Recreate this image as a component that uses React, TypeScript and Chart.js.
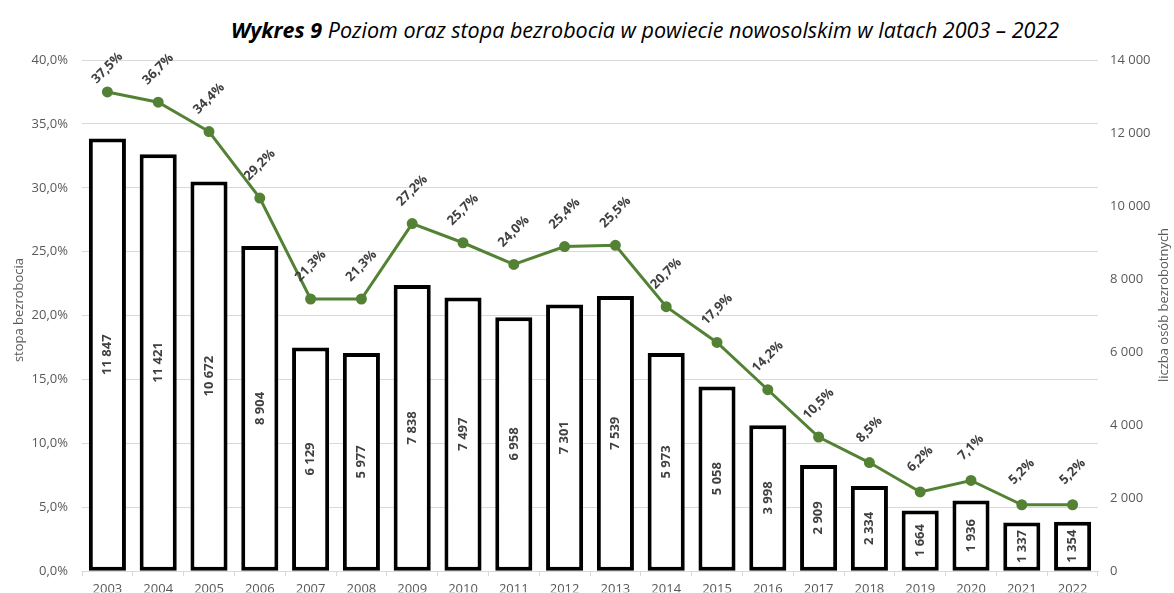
import React, { useEffect, useRef } from 'react';
import { Chart, registerables } from 'chart.js';

Chart.register(...registerables);

const years = ['2003','2004','2005','2006','2007','2008','2009','2010','2011','2012','2013','2014','2015','2016','2017','2018','2019','2020','2021','2022'];
const rates = [37.5, 36.7, 34.4, 29.2, 21.3, 21.3, 27.2, 25.7, 24.0, 25.4, 25.5, 20.7, 17.9, 14.2, 10.5, 8.5, 6.2, 7.1, 5.2, 5.2];
const counts = [11847, 11421, 10672, 8904, 6129, 5977, 7838, 7497, 6958, 7301, 7539, 5973, 5058, 3998, 2909, 2334, 1664, 1936, 1337, 1354];

const titleBold = 'Wykres 9';
const titleRest = ' Poziom oraz stopa bezrobocia w powiecie nowosolskim w latach 2003 – 2022';
const leftTitle = 'stopa bezrobocia';
const rightTitle = 'liczba osób bezrobotnych';

const GREEN = '#548235';
const LABEL = '#404040';
const AXIS = '#595959';
const GRID = '#d9d9d9';
const FONT = '"Open Sans", "DejaVu Sans", sans-serif';

const fmtPct = (v: number) => v.toFixed(1).replace('.', ',') + '%';
const fmtNum = (v: number) => String(Math.round(v)).replace(/\B(?=(\d{3})+(?!\d))/g, ' ');

const labelsPlugin = {
  id: 'customLabels',
  afterDatasetsDraw(chart: any) {
    const ctx = chart.ctx;
    ctx.save();
    ctx.font = `bold 13px ${FONT}`;
    ctx.fillStyle = LABEL;
    ctx.textAlign = 'center';
    ctx.textBaseline = 'middle';
    // bar labels
    const barMeta = chart.getDatasetMeta(1);
    barMeta.data.forEach((el: any, i: number) => {
      const cy = (el.y + el.base) / 2;
      ctx.save();
      ctx.translate(el.x, cy);
      ctx.rotate(-Math.PI / 2);
      ctx.fillText(fmtNum(counts[i]), 0, 0);
      ctx.restore();
    });
    // line labels
    const lineMeta = chart.getDatasetMeta(0);
    const minY = chart.chartArea.top + 8;
    lineMeta.data.forEach((el: any, i: number) => {
      ctx.save();
      ctx.translate(el.x, Math.max(el.y - 33, minY));
      ctx.rotate(-Math.PI / 4);
      ctx.fillText(fmtPct(rates[i]), 0, 0);
      ctx.restore();
    });
    // axis titles
    ctx.font = `13px ${FONT}`;
    ctx.fillStyle = AXIS;
    ctx.save();
    ctx.translate(19, 310);
    ctx.rotate(-Math.PI / 2);
    ctx.fillText(leftTitle, 0, 0);
    ctx.restore();
    ctx.save();
    ctx.translate(1164, 305);
    ctx.rotate(-Math.PI / 2);
    ctx.fillText(rightTitle, 0, 0);
    ctx.restore();
    ctx.restore();
  },
};

export default function App() {
  const ref = useRef<HTMLCanvasElement>(null);
  useEffect(() => {
    if (!ref.current) return;
    const chart = new Chart(ref.current, {
      type: 'bar',
      data: {
        labels: years,
        datasets: [
          {
            type: 'line',
            data: rates,
            yAxisID: 'yL',
            borderColor: GREEN,
            backgroundColor: GREEN,
            borderWidth: 3,
            pointRadius: 4,
            pointBackgroundColor: GREEN,
            pointBorderColor: GREEN,
            tension: 0,
            order: 0,
          } as any,
          {
            type: 'bar',
            data: counts,
            yAxisID: 'yR',
            backgroundColor: '#ffffff',
            borderColor: '#000000',
            borderWidth: 4,
            borderSkipped: false,
            categoryPercentage: 1,
            barPercentage: 0.73,
            order: 1,
          } as any,
        ],
      },
      options: {
        responsive: false,
        animation: false,
        layout: { padding: { top: 60, left: 0, right: 0, bottom: 0 } },
        plugins: { legend: { display: false }, tooltip: { enabled: false }, title: { display: false } },
        scales: {
          x: {
            offset: true,
            afterFit: (s: any) => { s.height = 21; },
            grid: { offset: true, drawOnChartArea: false, drawTicks: true, tickLength: 5, color: GRID },
            border: { display: true, color: GRID },
            ticks: { color: AXIS, font: { family: FONT, size: 13 }, padding: 5, maxRotation: 0 },
          },
          yL: {
            position: 'left',
            min: 0,
            max: 40,
            afterFit: (s: any) => { s.width = 82; },
            ticks: { stepSize: 5, color: AXIS, font: { family: FONT, size: 13 }, padding: 14, callback: (v: any) => fmtPct(Number(v)) },
            grid: { color: GRID, drawTicks: false },
            border: { display: false },
          },
          yR: {
            position: 'right',
            min: 0,
            max: 14000,
            afterFit: (s: any) => { s.width = 76; },
            ticks: { stepSize: 2000, color: AXIS, font: { family: FONT, size: 13 }, padding: 12, callback: (v: any) => fmtNum(Number(v)) },
            grid: { drawOnChartArea: false, drawTicks: false },
            border: { display: false },
          },
        },
      } as any,
      plugins: [labelsPlugin],
    });
    return () => chart.destroy();
  }, []);
  return (
    <div style={{ position: 'absolute', left: 0, top: 0, width: 1174, height: 593, background: '#fff', overflow: 'hidden' }}>
      <div style={{ position: 'absolute', left: 0, width: 1174, top: 15, textAlign: 'center', fontFamily: FONT, fontStyle: 'italic', fontSize: 21.5, lineHeight: '30px', color: '#000', paddingLeft: 116, boxSizing: 'border-box', whiteSpace: 'nowrap' }}>
        <b>{titleBold}</b>{titleRest}
      </div>
      <canvas ref={ref} width={1174} height={593} style={{ display: 'block', position: 'absolute', left: 0, top: 0 }} />
    </div>
  );
}
